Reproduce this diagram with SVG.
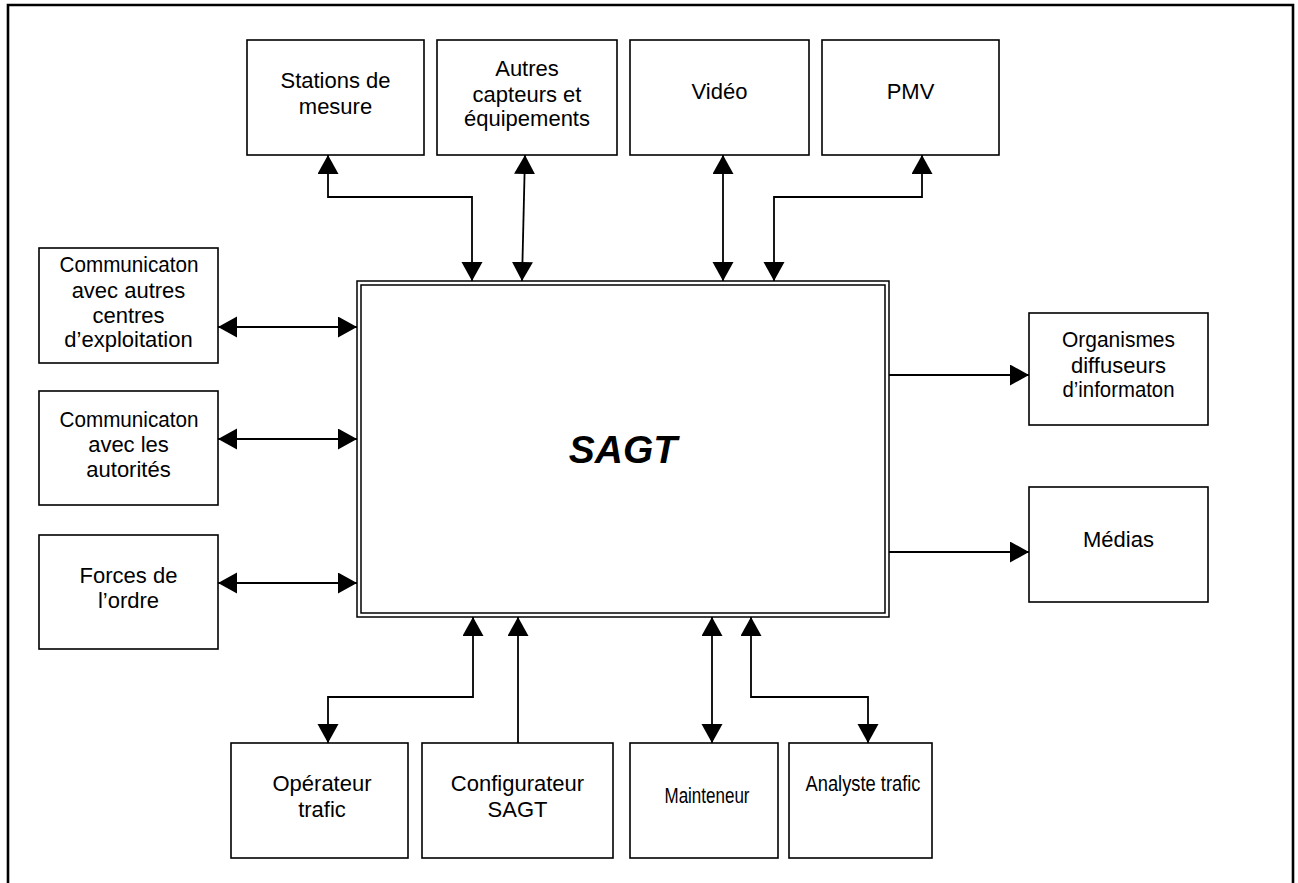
<svg xmlns="http://www.w3.org/2000/svg" width="1298" height="883" viewBox="0 0 1298 883">
<defs>
<style>
.box{fill:#fff;stroke:#000;stroke-width:1.6}
.t{font-family:"Liberation Sans",Arial,sans-serif;font-size:22px;fill:#000;text-anchor:middle}
.big{font-family:"Liberation Sans",Arial,sans-serif;font-size:39px;font-weight:bold;font-style:italic;fill:#000;text-anchor:middle}
.c{fill:none;stroke:#000;stroke-width:1.8}
.both{marker-start:url(#ah);marker-end:url(#ah)}
.end{marker-end:url(#ah)}
</style>
<marker id="ah" markerUnits="userSpaceOnUse" markerWidth="20" markerHeight="22" refX="19" refY="10.5" orient="auto-start-reverse">
<path d="M0,0 L19,10.5 L0,21 Z" fill="#000"/>
</marker>
</defs>
<rect width="1298" height="883" fill="#fff"/>
<g id="frame">
<path d="M8,883 V5 H1293 V883" fill="none" stroke="#000" stroke-width="2.6"/>
</g>
<g id="sagt">
<rect x="357" y="281" width="532" height="336" fill="#fff" stroke="#000" stroke-width="1.5"/>
<rect x="361" y="285" width="524" height="328" fill="none" stroke="#000" stroke-width="1.5"/>
<text class="big" x="623" y="463">SAGT</text>
</g>
<g id="stations">
<rect class="box" x="247" y="40" width="177" height="115"/>
<text class="t" x="335.5" y="88">Stations de</text>
<text class="t" x="335.5" y="114">mesure</text>
</g>
<g id="autres">
<rect class="box" x="437" y="40" width="180" height="115"/>
<text class="t" x="527" y="76">Autres</text>
<text class="t" x="527" y="102">capteurs et</text>
<text class="t" x="527" y="126">équipements</text>
</g>
<g id="video">
<rect class="box" x="630" y="40" width="179" height="115"/>
<text class="t" x="719.5" y="99">Vidéo</text>
</g>
<g id="pmv">
<rect class="box" x="822" y="40" width="177" height="115"/>
<text class="t" x="910.5" y="99">PMV</text>
</g>
<g id="comm-centres">
<rect class="box" x="39" y="248" width="179" height="115"/>
<text class="t" x="129" y="272" textLength="139" lengthAdjust="spacingAndGlyphs">Communicaton</text>
<text class="t" x="128.5" y="298">avec autres</text>
<text class="t" x="128.5" y="323">centres</text>
<text class="t" x="128.5" y="347">d’exploitation</text>
</g>
<g id="comm-autorites">
<rect class="box" x="39" y="391" width="179" height="114"/>
<text class="t" x="129" y="427" textLength="139" lengthAdjust="spacingAndGlyphs">Communicaton</text>
<text class="t" x="128.5" y="452">avec les</text>
<text class="t" x="128.5" y="477">autorités</text>
</g>
<g id="forces">
<rect class="box" x="39" y="535" width="179" height="114"/>
<text class="t" x="128.5" y="583">Forces de</text>
<text class="t" x="128.5" y="608">l’ordre</text>
</g>
<g id="organismes">
<rect class="box" x="1029" y="313" width="179" height="112"/>
<text class="t" x="1118.5" y="347" textLength="113" lengthAdjust="spacingAndGlyphs">Organismes</text>
<text class="t" x="1118.5" y="373">diffuseurs</text>
<text class="t" x="1118.5" y="397" textLength="112" lengthAdjust="spacingAndGlyphs">d’informaton</text>
</g>
<g id="medias">
<rect class="box" x="1029" y="487" width="179" height="115"/>
<text class="t" x="1118.5" y="547">Médias</text>
</g>
<g id="operateur">
<rect class="box" x="231" y="743" width="177" height="115"/>
<text class="t" x="322" y="791">Opérateur</text>
<text class="t" x="322" y="817">trafic</text>
</g>
<g id="configurateur">
<rect class="box" x="422" y="743" width="191" height="115"/>
<text class="t" x="517.5" y="791">Configurateur</text>
<text class="t" x="517.5" y="817">SAGT</text>
</g>
<g id="mainteneur">
<rect class="box" x="630" y="743" width="148" height="115"/>
<text class="t" x="707" y="803" textLength="85" lengthAdjust="spacingAndGlyphs">Mainteneur</text>
</g>
<g id="analyste">
<rect class="box" x="789" y="743" width="143" height="115"/>
<text class="t" x="863" y="791" textLength="115" lengthAdjust="spacingAndGlyphs">Analyste  trafic</text>
</g>
<g id="connectors">
<path class="c both" d="M328,155 V197 H472 V281"/>
<path class="c both" d="M525,155 L522,281"/>
<path class="c both" d="M723,155 V281"/>
<path class="c both" d="M922,155 V197 H774 V281"/>
<path class="c both" d="M218,327 H357"/>
<path class="c both" d="M218,439 H357"/>
<path class="c both" d="M218,583 H357"/>
<path class="c end" d="M889,375 H1029"/>
<path class="c end" d="M889,552 H1029"/>
<path class="c both" d="M473,617 V697 H328 V743"/>
<path class="c end" d="M518,743 V617"/>
<path class="c both" d="M712,617 V743"/>
<path class="c both" d="M751,617 V697 H868 V743"/>
</g>
</svg>
